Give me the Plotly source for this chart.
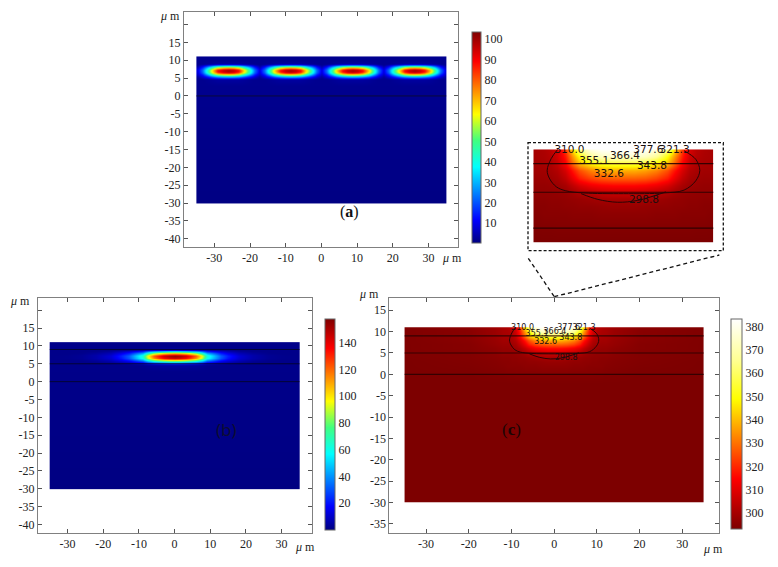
import plotly.graph_objects as go

W, H = 778, 567

# ---------- data ----------
x_ticks_vals = [-30, -20, -10, 0, 10, 20, 30]
x_ticks_text = ["-30", "-20", "-10", "0", "10", "20", "30"]
y_ticks_ab = [20, 15, 10, 5, 0, -5, -10, -15, -20, -25, -30, -35, -40]
y_ticks_ab_text = ["", "15", "10", "5", "0", "-5", "-10", "-15", "-20", "-25", "-30", "-35", "-40"]
y_ticks_c = [15, 10, 5, 0, -5, -10, -15, -20, -25, -30, -35]
y_ticks_c_text = ["15", "10", "5", "0", "-5", "-10", "-15", "-20", "-25", "-30", "-35"]

cbar_a_ticks = [10, 20, 30, 40, 50, 60, 70, 80, 90, 100]
cbar_b_ticks = [20, 40, 60, 80, 100, 120, 140]
cbar_c_ticks = [300, 310, 320, 330, 340, 350, 360, 370, 380]

domain_x = [-35, 35]
layer_y_a = [0]
layer_y_bc = [9, 5, 0]

# (a) four identical lobes: half-lobe column offsets 0..8.7 um, each row from picture
a_y = [-30, -29.9, 3.0, 4.6, 5, 5.5, 6, 6.5, 7, 7.5, 8, 8.5, 8.8, 9.2, 9.8, 10.9, 11]
a_lobe_rows = [
    [.5, .5, .5, .5, .5, .5, .5],
    [.5, .5, .5, .5, .5, .5, .5],
    [1.5, 1.5, 1.5, 1.5, 1.5, 1.5, 1.5],
    [3, 3, 3, 2.5, 2, 1.5, 1.5],
    [10, 10, 9, 7, 5, 3, 1.5],
    [32, 31, 28, 22, 14, 8, 3],
    [63, 61, 55, 43, 28, 14, 6],
    [93, 90, 82, 63, 42, 21, 8],
    [100, 97, 90, 68, 45, 23, 9],
    [95, 92, 84, 65, 43, 22, 9],
    [70, 68, 62, 48, 32, 16, 6],
    [36, 35, 32, 24, 16, 8, 3],
    [12, 12, 11, 8, 6, 3.5, 1.5],
    [3, 3, 3, 2.5, 2, 1.5, 1.5],
    [1.5, 1.5, 1.5, 1.5, 1.5, 1.5, 1.5],
    [1.5, 1.5, 1.5, 1.5, 1.5, 1.5, 1.5],
    [1.5, 1.5, 1.5, 1.5, 1.5, 1.5, 1.5],
]
a_x = [-35, -34.95, -34.8, -33.35, -31.9, -30.45, -29, -27.55, -26.1, -24.65, -23.2, -21.75, -20.3, -18.85,
       -17.4, -15.95, -14.5, -13.05, -11.6, -10.15, -8.7, -7.25, -5.8, -4.35, -2.9, -1.45, 0,
       1.45, 2.9, 4.35, 5.8, 7.25, 8.7, 10.15, 11.6, 13.05, 14.5, 15.95, 17.4, 18.85, 20.3,
       21.75, 23.2, 24.65, 26.1, 27.55, 29, 30.45, 31.9, 33.35, 34.8, 34.95, 35]

# (b) single central lobe: half-width columns, rows from picture
b_half_x = [0, 1.5, 3, 4.5, 6, 7.5, 9, 11, 13, 15, 18, 22, 26, 30, 34.95, 35]
b_y = [-30, -29.9, 3.0, 4.6, 5, 5.5, 6, 6.5, 7, 7.5, 8, 8.5, 8.8, 9.2, 9.8, 10.9, 11]
b_rows = [
    [.5] * 16,
    [.5] * 16,
    [1.5] * 16,
    [4.6, 4.6, 4.4, 4, 3.7, 3, 2, 1.5, 1.5, 1.5, 1.5, 1.5, 1.5, 1.5, 1.5, 1.5],
    [15.5, 15, 14.5, 13.5, 12, 9.6, 6.4, 4.8, 3.2, 2.2, 1.5, 1.5, 1.5, 1.5, 1.5, 1.5],
    [50, 49, 46, 43, 39, 31, 20, 15, 10, 7, 4, 2, 1.5, 1.5, 1.5, 1.5],
    [98, 96, 91, 84, 77, 60, 40, 30, 20, 14, 8, 4, 2, 1.5, 1.5, 1.5],
    [144, 141, 135, 125, 113, 89, 60, 45, 30, 20, 11, 6, 3, 2, 1.5, 1.5],
    [155, 152, 145, 134, 122, 96, 64, 48, 32, 22, 12, 6, 3, 2, 1.5, 1.5],
    [147, 144, 138, 127, 116, 91, 61, 46, 30, 21, 11, 6, 3, 2, 1.5, 1.5],
    [108, 106, 101, 94, 85, 67, 45, 34, 22, 15, 8, 4, 2, 1.5, 1.5, 1.5],
    [56, 55, 52, 48, 44, 35, 23, 17, 12, 8, 4, 2, 1.5, 1.5, 1.5, 1.5],
    [19, 18, 17, 16, 15, 12, 8, 6, 4, 3, 1.5, 1.5, 1.5, 1.5, 1.5, 1.5],
    [4.6, 4.6, 4.4, 4, 3.7, 3, 2, 1.5, 1.5, 1.5, 1.5, 1.5, 1.5, 1.5, 1.5, 1.5],
    [1.5] * 16,
    [1.5] * 16,
    [1.5] * 16,
]

# (c) temperature field: half-width columns, rows from picture
c_half_x = [0, 1.5, 3, 4.5, 6, 7, 8, 9, 10, 11, 12, 14, 20, 34.95, 35]
c_y = [-30, -29.9, -2, 0, 2, 3, 4, 5, 6, 7, 8, 9, 10, 10.95, 11]
c_rows = [
    [293] * 15,
    [293] * 15,
    [293] * 15,
    [294, 294, 294, 294, 294, 294, 294, 294, 293.8, 293.8, 293.6, 293.5, 293, 293, 293],
    [296, 296, 296, 295.5, 295.5, 295.5, 295, 295, 295, 295, 294.5, 294.2, 293.5, 293, 293],
    [297.5, 297.5, 297, 296.5, 296.5, 296, 296, 295.5, 295.5, 295, 295, 294.5, 293.8, 293, 293],
    [300, 300, 299.5, 298.5, 297.5, 297, 296.5, 296, 296, 295.5, 295.5, 295, 294, 293.2, 293.2],
    [306, 306, 305, 303, 301, 299, 297.5, 297, 296.5, 296.5, 296.5, 295.5, 294, 293.5, 293.5],
    [315, 315, 314, 312, 308, 304, 300, 298, 297.5, 297, 297, 296, 294.5, 293.5, 293.5],
    [327, 327, 326, 323, 318, 311, 304, 300, 298.5, 298, 298, 297, 294.5, 293.5, 293.5],
    [338, 338, 336, 332, 325, 317, 308, 302, 300, 299, 299, 297.5, 295, 293.5, 293.5],
    [355, 355, 353, 348, 340, 328, 314, 305, 301, 300, 299.5, 298, 295, 293.5, 293.5],
    [375, 375, 373, 366, 350, 335, 318, 307, 302, 300.5, 300, 298, 295, 293.5, 293.5],
    [383, 383, 382, 378, 365, 345, 322, 308, 303, 301, 300, 298.5, 295.5, 293.5, 293.5],
    [383, 383, 382, 378, 365, 345, 322, 308, 303, 301, 300, 298.5, 295.5, 293.5, 293.5],
]

# contour lines and their labels in panel (c) and its inset
contour_310_x = [-9.0, -9.9, -10.45, -10.1, -9.2, -7.9, -5.4, 0, 5.5, 8.3, 9.9, 10.45, 9.9, 8.3]
contour_310_y = [11, 9.7, 8.05, 6.86, 5.76, 5.2, 4.9, 4.8, 4.9, 5.3, 6.6, 8.05, 9.6, 10.8]
contour_298_x = [-5.8, -3.5, -0.8, 1.9, 4.2, 5.8]
contour_298_y = [4.8, 4.0, 3.6, 3.85, 4.5, 5.05]
label_text = ["310.0", "321.3", "332.6", "343.8", "355.1", "366.4", "377.6", "298.8"]
label_x = [-7.4, 7.0, -2.0, 3.9, -4.0, 0.2, 3.4, 2.8]
label_y = [10.8, 10.8, 7.55, 8.6, 9.35, 9.95, 10.8, 3.9]

# ---------- styles ----------
SERIF = "Liberation Serif"
TEXT = "#222222"
FRAME = "#808080"
JET = [[0, "#000080"], [0.11, "#0000ff"], [0.36, "#00ffff"], [0.485, "#40ff80"],
       [0.61, "#ffff00"], [0.86, "#ff0000"], [1, "#800000"]]
HOT = [[0, "#7d0000"], [0.24, "#ff0000"], [0.62, "#ffff00"], [0.8, "#ffff90"], [1, "#ffffff"]]


def expand_half(rows):
    return [r[:0:-1] + r for r in rows]


def tile_lobes(rows):
    out = []
    for r in rows:
        period = r[:0:-1] + r[:-1]
        out.append([r[-1], r[-1]] + period * 4 + [r[-1], r[-1], r[-1]])
    return out


def mirror_x(half):
    return [-v for v in half[:0:-1]] + half


fig = go.Figure()


def add_axes(n, x0, x1, y0, y1, xr, yr, yvals, ytext, visible=True):
    xa = dict(domain=[x0 / W, x1 / W], range=xr, anchor=f"y{n}", visible=visible,
              tickmode="array", tickvals=x_ticks_vals, ticktext=x_ticks_text,
              ticks="inside", ticklen=4, tickcolor="#555555", showgrid=False, zeroline=False,
              showline=True, linecolor=FRAME, linewidth=1, mirror="ticks",
              tickfont=dict(family=SERIF, size=12, color=TEXT))
    ya = dict(domain=[1 - y1 / H, 1 - y0 / H], range=yr, anchor=f"x{n}", visible=visible,
              tickmode="array", tickvals=yvals, ticktext=ytext,
              ticks="inside", ticklen=4, tickcolor="#555555", showgrid=False, zeroline=False,
              showline=True, linecolor=FRAME, linewidth=1, mirror="ticks",
              tickfont=dict(family=SERIF, size=12, color=TEXT))
    fig.layout[f"xaxis{n}"] = xa
    fig.layout[f"yaxis{n}"] = ya


def cbar(x0, x1, y0, y1, vals):
    return dict(x=x0 / W, xanchor="left", xref="paper", y=1 - y0 / H, yanchor="top", yref="paper",
                lenmode="pixels", len=y1 - y0, thicknessmode="pixels", thickness=x1 - x0,
                xpad=0, ypad=0, outlinewidth=1, outlinecolor="#666666", borderwidth=0,
                tickmode="array", tickvals=vals, ticks="",
                tickfont=dict(family=SERIF, size=12, color=TEXT))


def add_layers(n, levels, color, width=1):
    for lv in levels:
        fig.add_trace(go.Scatter(x=domain_x, y=[lv, lv], mode="lines", xaxis=f"x{n}", yaxis=f"y{n}",
                                 line=dict(color=color, width=width), showlegend=False, hoverinfo="skip"))


def add_contours(n, size):
    for cx, cy in ((contour_310_x, contour_310_y), (contour_298_x, contour_298_y)):
        fig.add_trace(go.Scatter(x=cx, y=cy, mode="lines", xaxis=f"x{n}", yaxis=f"y{n}",
                                 line=dict(color="#2a0505", width=1, shape="spline"),
                                 showlegend=False, hoverinfo="skip"))
    fig.add_trace(go.Scatter(x=label_x, y=label_y, text=label_text, mode="text", xaxis=f"x{n}", yaxis=f"y{n}",
                             textposition="middle center", cliponaxis=False,
                             textfont=dict(family="DejaVu Sans", size=size, color="#1a0f0f"),
                             showlegend=False, hoverinfo="skip"))


# panel (a)
add_axes(1, 184, 458, 12, 247, [-38.5, 38.3], [-42.3, 23.5], y_ticks_ab, y_ticks_ab_text)
fig.add_trace(go.Heatmap(x=a_x, y=a_y, z=tile_lobes(a_lobe_rows), xaxis="x1", yaxis="y1", zsmooth="best",
                         colorscale=JET, zmin=0.2, zmax=103.4, hoverinfo="skip",
                         colorbar=cbar(471.7, 481, 32.3, 243, cbar_a_ticks)))
add_layers(1, layer_y_a, "rgba(10,10,50,0.9)")

# panel (b)
add_axes(2, 38, 312.3, 297.7, 532.7, [-38.3, 38.6], [-42.3, 23.5], y_ticks_ab, y_ticks_ab_text)
fig.add_trace(go.Heatmap(x=mirror_x(b_half_x), y=b_y, z=expand_half(b_rows), xaxis="x2", yaxis="y2", zsmooth="best",
                         colorscale=JET, zmin=0.2, zmax=158, hoverinfo="skip",
                         colorbar=cbar(325, 335.3, 318.7, 529.3, cbar_b_ticks)))
add_layers(2, layer_y_bc, "rgba(5,5,40,0.85)")

# panel (c)
add_axes(3, 389.3, 719, 297.7, 532.7, [-38.6, 38.6], [-37.1, 17.95], y_ticks_c, y_ticks_c_text)
fig.add_trace(go.Heatmap(x=mirror_x(c_half_x), y=c_y, z=expand_half(c_rows), xaxis="x3", yaxis="y3", zsmooth="best",
                         colorscale=HOT, zmin=293, zmax=383, hoverinfo="skip",
                         colorbar=cbar(731, 741.7, 319.3, 529.3, cbar_c_ticks)))
add_layers(3, layer_y_bc, "rgba(40,0,0,0.85)", 1.2)
add_contours(3, 8)

# inset, same temperature data zoomed in
add_axes(4, 533.3, 713.3, 149.3, 242.7, [-12.35, 12.3], [-2.05, 11], y_ticks_c, y_ticks_c_text, visible=False)
fig.add_trace(go.Heatmap(x=mirror_x(c_half_x), y=c_y, z=expand_half(c_rows), xaxis="x4", yaxis="y4", zsmooth="best",
                         colorscale=HOT, zmin=293, zmax=383, hoverinfo="skip", showscale=False))
add_layers(4, layer_y_bc, "rgba(40,0,0,0.9)", 1.2)
add_contours(4, 10.5)


# text and connector decorations, placed in window pixels
def note(px, py, text, size, family=SERIF, color=TEXT):
    fig.add_annotation(x=px / W, y=1 - py / H, xref="paper", yref="paper", text=text, showarrow=False,
                       xanchor="center", yanchor="middle", font=dict(family=family, size=size, color=color))


UM = "<i>μ</i> m"
for px, py in [(170, 15.7), (451.7, 258), (20, 300.7), (305, 546.7), (369, 294), (712.7, 549)]:
    note(px, py, UM, 12)
note(349.3, 212, "(<b>a</b>)", 16, color="#111111")
note(226.7, 429, "(b)", 17, family="Noto Sans", color="#0c0c33")
note(512, 429, "(<b>c</b>)", 17, color="#1a0505")


def pshape(kind, x0, y0, x1, y1):
    fig.add_shape(type=kind, xref="paper", yref="paper", x0=x0 / W, x1=x1 / W, y0=1 - y0 / H, y1=1 - y1 / H,
                  line=dict(color="#111111", width=1.3, dash="3px,2px" if kind == "rect" else "4px,3px"))


pshape("rect", 528, 142.7, 723.3, 250.7)
pshape("line", 528.3, 258.3, 554.3, 296.7)
pshape("line", 554.3, 296.7, 719.3, 255)

fig.update_layout(width=W, height=H, margin=dict(l=0, r=0, t=0, b=0, autoexpand=False),
                  paper_bgcolor="white", plot_bgcolor="white", showlegend=False)

fig.write_html("out.html", config={"displayModeBar": False}, post_script="document.body.style.margin='0';")
